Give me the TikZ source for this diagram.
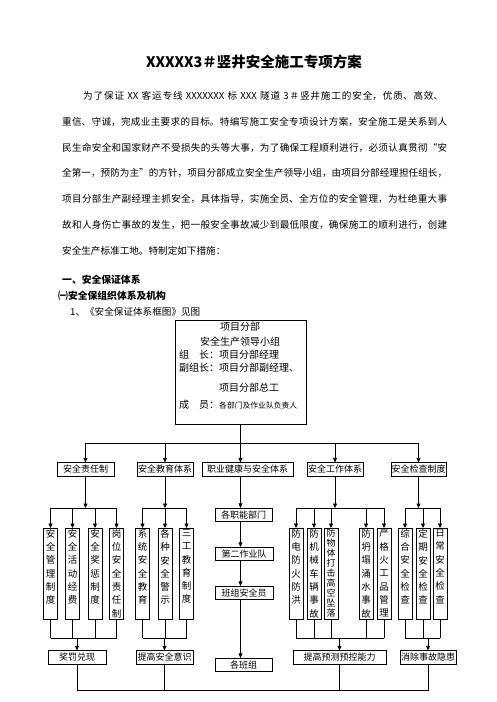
\documentclass[tikz,border=0pt]{standalone}
\usepackage{fontspec}
\setmainfont{Noto Sans CJK SC}
\XeTeXlinebreaklocale "zh"
\XeTeXlinebreakskip=0pt plus 1pt
\usetikzlibrary{
    arrows.meta,
    positioning
}

% a line of text spread to the full width
\newcommand{\fullline}[1]{{\leftskip=0pt\rightskip=0pt\parfillskip=0pt\relax #1\par}}
% one character per line, set from the top of the box
\newcommand{\stackchars}[1]{\parbox[c][89pt][t]{10pt}{\centering #1}}

\begin{document}
\begin{tikzpicture}[
    x=1pt,
    y=-1pt,
    every node/.style={
        inner sep=0pt,
        font=\fontsize{9.6pt}{12pt}\selectfont
    },
    bodyline/.style={
        anchor=base west,
        text width=385pt
    },
    heading/.style={
        anchor=base west,
        font=\fontsize{9.8pt}{12pt}\selectfont\bfseries
    },
    pmtext/.style={
        anchor=base west,
        font=\fontsize{10pt}{12pt}\selectfont
    },
    tagbox/.style={
        draw,
        line width=0.7pt,
        minimum height=13.5pt,
        font=\fontsize{9pt}{10pt}\selectfont
    },
    colbox/.style={
        draw,
        line width=0.7pt,
        anchor=north,
        inner xsep=2pt,
        inner ysep=1pt,
        font=\fontsize{9.5pt}{13.3pt}\selectfont
    },
    link/.style={
        line width=0.7pt
    },
    arr/.style={
        link,
        -{Triangle[length=4.5pt,width=4pt]}
    }
]

    \useasboundingbox (0,0) rectangle (496,702);

    % Title and opening text
    \node[font=\fontsize{14.5pt}{16pt}\selectfont\bfseries] (title)
        at (254,62) {XXXXX3＃竖井安全施工专项方案};

    \node[bodyline, text width=360pt] (line1) at (83,99.5)
        {\fullline{为了保证 XX 客运专线 XXXXXXX 标 XXX 隧道 3＃竖井施工的安全，优质、高效、}};
    \node[bodyline] (line2) at (62,125.3)
        {\fullline{重信、守诚，完成业主要求的目标。特编写施工安全专项设计方案，安全施工是关系到人}};
    \node[bodyline] (line3) at (62,151.1)
        {\fullline{民生命安全和国家财产不受损失的头等大事，为了确保工程顺利进行，必须认真贯彻“安}};
    \node[bodyline] (line4) at (62,176.9)
        {\fullline{全第一，预防为主”的方针，项目分部成立安全生产领导小组，由项目分部经理担任组长，}};
    \node[bodyline] (line5) at (62,202.7)
        {\fullline{项目分部生产副经理主抓安全，具体指导，实施全员、全方位的安全管理，为杜绝重大事}};
    \node[bodyline] (line6) at (62,228.5)
        {\fullline{故和人身伤亡事故的发生，把一般安全事故减少到最低限度，确保施工的顺利进行，创建}};
    \node[anchor=base west] (line7) at (62,254.3)
        {安全生产标准工地。特制定如下措施：};

    % Section headings
    \node[heading] (sec) at (62,283.7) {一、安全保证体系};
    \node[heading] (subsec) at (58,299.7) {㈠安全保组织体系及机构};
    \node[anchor=base west] (fig) at (70,315.7) {1、《安全保证体系框图》见图};

    % Leading group
    \node[draw, line width=0.7pt, minimum width=131pt, minimum height=104pt]
        (pm) at (240.5,372) {};
    \node[pmtext, anchor=base] (pm1) at (240,330.6) {项目分部};
    \node[pmtext, anchor=base] (pm2) at (240,345.6) {安全生产领导小组};
    \node[pmtext] (pm3) at (179,358.6) {组　长：项目分部经理};
    \node[pmtext] (pm4) at (179,371.6) {副组长：项目分部副经理、};
    \node[pmtext] (pm5) at (219,391.6) {项目分部总工};
    \node[pmtext] (pm6) at (179,408.6)
        {成　员：{\fontsize{7.8pt}{10pt}\selectfont 各部门及作业队负责人}};

    % Five systems
    \node[tagbox, minimum width=57pt] (duty) at (85.5,469.5) {安全责任制};
    \node[tagbox, minimum width=56pt] (edu) at (165,469.5) {安全教育体系};
    \node[tagbox, minimum width=91pt] (ohs) at (247.5,469.5) {职业健康与安全体系};
    \node[tagbox, minimum width=56pt] (work) at (335,469.5) {安全工作体系};
    \node[tagbox, minimum width=55pt] (check) at (418.5,469.5) {安全检查制度};

    % Measures under each system
    \node[colbox] (rules) at (50.5,528) {\stackchars{安全管理制度}};
    \node[colbox] (funds) at (72.5,528) {\stackchars{安全活动经费}};
    \node[colbox] (merit) at (95,528) {\stackchars{安全奖惩制度}};
    \node[colbox] (postduty) at (116.5,528) {\stackchars{岗位安全责任制}};

    \node[colbox] (sysedu) at (142.5,528) {\stackchars{系统安全教育}};
    \node[colbox] (warn) at (165,528) {\stackchars{各种安全警示}};
    \node[colbox] (threeedu) at (186.5,528) {\stackchars{三工教育制度}};

    \node[colbox] (fire) at (296,528) {\stackchars{防电防火防洪}};
    \node[colbox] (mech) at (314,528) {\stackchars{防机械车辆事故}};
    \node[colbox, font=\fontsize{9pt}{10pt}\selectfont] (fall) at (331,528)
        {\stackchars{防物体打击高空坠落}};
    \node[colbox] (collapse) at (366,528) {\stackchars{防坍塌涌水事故}};
    \node[colbox] (blast) at (384,528) {\stackchars{严格火工品管理}};

    \node[colbox] (general) at (405,528) {\stackchars{综合安全检查}};
    \node[colbox] (periodic) at (423,528) {\stackchars{定期安全检查}};
    \node[colbox] (daily) at (440,528) {\stackchars{日常安全检查}};

    % Middle column
    \node[tagbox, minimum width=57pt] (dept) at (243.5,515) {各职能部门};
    \node[tagbox, minimum width=58pt] (team) at (244,554) {第二作业队};
    \node[tagbox, minimum width=58pt] (safety) at (244,593) {班组安全员};
    \node[tagbox, minimum width=57pt] (crews) at (243.5,665) {各班组};

    % Results
    \node[tagbox, minimum width=58pt] (prize) at (77,657.5) {奖罚兑现};
    \node[tagbox, minimum width=57pt] (aware) at (164.5,657.5) {提高安全意识};
    \node[tagbox, minimum width=93pt] (predict) at (339.5,657.5) {提高预测预控能力};
    \node[tagbox, minimum width=56pt] (hazard) at (428,657.5) {消除事故隐患};

    % Levels of the connecting bars
    \coordinate (bus) at (0,443);
    \coordinate (split) at (0,508);
    \coordinate (merge) at (0,638);
    \coordinate (base) at (0,690);

    % Leading group to the five systems
    \draw[link] (duty.north |- bus) -- (check.north |- bus);
    \draw[arr] (pm.south) -- (pm.south |- ohs.north);
    \foreach \sys in {duty,edu,work,check}
        \draw[arr] (\sys.north |- bus) -- (\sys.north);

    % Systems to their measures
    \foreach \sys in {duty,edu,work,check}
        \draw[arr] (\sys.south) -- (\sys.south |- split);
    \draw[link] (rules.north |- split) -- (postduty.north |- split);
    \draw[link] (sysedu.north |- split) -- (threeedu.north |- split);
    \draw[link] (fire.north |- split) -- (blast.north |- split);
    \draw[link] (general.north |- split) -- (daily.north |- split);
    \foreach \col in {rules,funds,merit,postduty,sysedu,warn,threeedu,
                      fire,mech,fall,collapse,blast,general,periodic,daily}
        \draw[arr] (\col.north |- split) -- (\col.north);

    % Measures to results
    \foreach \col in {rules,funds,merit,postduty,sysedu,warn,threeedu,
                      fire,mech,fall,collapse,blast,general,periodic,daily}
        \draw[link] (\col.south) -- (\col.south |- merge);
    \draw[link] (rules.south |- merge) -- (postduty.south |- merge);
    \draw[link] (sysedu.south |- merge) -- (threeedu.south |- merge);
    \draw[link] (fire.south |- merge) -- (blast.south |- merge);
    \draw[link] (general.south |- merge) -- (daily.south |- merge);
    \foreach \res in {prize,aware,predict,hazard}
        \draw[arr] (\res.north |- merge) -- (\res.north);

    % Middle column
    \draw[arr] (ohs.south -| pm.south) -- (dept.north -| pm.south);
    \draw[arr] (dept.south -| pm.south) -- (team.north -| pm.south);
    \draw[arr] (team.south -| pm.south) -- (safety.north -| pm.south);
    \draw[arr] (safety.south -| pm.south) -- (crews.north -| pm.south);

    % Results joined at the foot
    \draw[link] (prize.south) -- (prize.south |- base) -- (hazard.south |- base)
        -- (hazard.south);
    \foreach \res in {aware,predict}
        \draw[link] (\res.south) -- (\res.south |- base);

\end{tikzpicture}
\end{document}
